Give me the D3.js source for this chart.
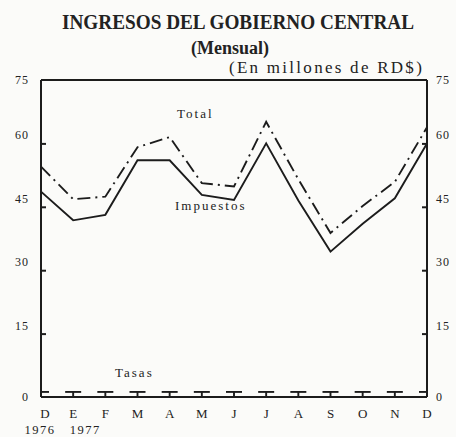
<!DOCTYPE html>
<html>
<head>
<meta charset="utf-8">
<script src="https://cdn.jsdelivr.net/npm/d3@7"></script>
<style>
  html, body { margin: 0; padding: 0; background: #fbfbf9; }
  svg { display: block; }
  text { font-family: "Liberation Serif", "DejaVu Serif", serif; fill: #222; }
</style>
</head>
<body>
<svg id="chart" width="456" height="437"></svg>
<script>
// Monthly government revenue, Dec 1976 – Dec 1977 (millions RD$)
const months = ["D", "E", "F", "M", "A", "M", "J", "J", "A", "S", "O", "N", "D"];
const yearLabels = [["1976", 0], ["1977", 1]];
const total     = [54.5, 46.8, 47.4, 59.1, 61.5, 50.6, 49.8, 65.1, 51.5, 38.8, 45.2, 50.9, 63.8];
const impuestos = [48.6, 41.8, 43.1, 56.0, 56.0, 47.8, 46.6, 60.0, 46.5, 34.4, 41.0, 47.0, 60.0];
const tasas     = [1.2, 1.2, 1.2, 1.2, 1.2, 1.2, 1.2, 1.2, 1.2, 1.2, 1.2, 1.2, 1.2];
const yTicks = [0, 15, 30, 45, 60, 75];

const svg = d3.select("#chart");
const plotL = 41, plotR = 427, plotT = 80, plotB = 397;
const ink = "#1c1c1c";

const x = d3.scaleLinear().domain([0, months.length - 1]).range([plotL, plotR]);
const y = d3.scaleLinear().domain([0, 75]).range([plotB, plotT]);

// Titles
svg.append("text").attr("x", 238).attr("y", 29).attr("text-anchor", "middle")
  .attr("font-size", 20).attr("font-weight", "bold")
  .attr("textLength", 352).attr("lengthAdjust", "spacingAndGlyphs")
  .text("INGRESOS DEL GOBIERNO CENTRAL");
svg.append("text").attr("x", 230).attr("y", 54).attr("text-anchor", "middle")
  .attr("font-size", 18).attr("font-weight", "bold")
  .text("(Mensual)");
svg.append("text").attr("x", 229).attr("y", 73)
  .attr("font-size", 17).attr("letter-spacing", "1.2")
  .attr("textLength", 194).attr("lengthAdjust", "spacing")
  .text("(En millones de RD$)");

// Frame: left axis, right axis, top border, baseline
const frame = svg.append("g").attr("stroke", ink).attr("stroke-width", 2).attr("fill", "none");
frame.append("line").attr("x1", plotL).attr("x2", plotL).attr("y1", y(75)).attr("y2", y(0));
frame.append("line").attr("x1", plotR).attr("x2", plotR).attr("y1", y(75)).attr("y2", y(0));
frame.append("line").attr("x1", plotL).attr("x2", plotR).attr("y1", y(75)).attr("y2", y(75));
frame.append("line").attr("x1", plotL).attr("x2", plotR).attr("y1", y(0)).attr("y2", y(0));

// Inward ticks on both vertical axes
const inner = yTicks.filter(v => v > 0 && v < 75);
const leftAxis = svg.append("g").attr("transform", `translate(${plotL},0)`)
  .call(d3.axisRight(y).tickValues(inner).tickSize(5).tickFormat(""));
const rightAxis = svg.append("g").attr("transform", `translate(${plotR},0)`)
  .call(d3.axisLeft(y).tickValues(inner).tickSize(5).tickFormat(""));
[leftAxis, rightAxis].forEach(g => {
  g.select(".domain").remove();
  g.selectAll(".tick line").attr("stroke", ink).attr("stroke-width", 2);
});

// Tick labels, sitting slightly above the inner ticks
const lift = v => (v > 0 && v < 75) ? -4 : 4;
svg.append("g").selectAll("text").data(yTicks).join("text")
  .attr("x", 29).attr("y", v => y(v) + lift(v))
  .attr("text-anchor", "end").attr("font-size", 12).attr("letter-spacing", "1")
  .attr("fill", "#333").text(v => v);
svg.append("g").selectAll("text").data(yTicks).join("text")
  .attr("x", 436).attr("y", v => y(v) + lift(v))
  .attr("font-size", 12).attr("letter-spacing", "1")
  .attr("fill", "#333").text(v => v);

// Month and year labels
svg.append("g").selectAll("text").data(months).join("text")
  .attr("x", (d, i) => x(i) + (i === 0 ? 4 : 0)).attr("y", 418)
  .attr("text-anchor", "middle").attr("font-size", 13)
  .text(d => d);
svg.append("g").selectAll("text").data(yearLabels).join("text")
  .attr("x", d => x(d[1]) + (d[1] === 0 ? -1 : 12)).attr("y", 434)
  .attr("text-anchor", "middle").attr("font-size", 12.5).attr("letter-spacing", "1.5")
  .text(d => d[0]);

// Series lines
const line = d3.line().x((d, i) => x(i)).y(d => y(d));
svg.append("path").datum(total).attr("d", line)
  .attr("fill", "none").attr("stroke", ink).attr("stroke-width", 1.9)
  .attr("stroke-dasharray", "13,5,2,5");
svg.append("path").datum(impuestos).attr("d", line)
  .attr("fill", "none").attr("stroke", ink).attr("stroke-width", 1.9);

// Tasas: short bars at each month with stems down to the baseline
const tg = svg.append("g").attr("stroke", ink).attr("stroke-width", 1.9);
tg.selectAll("line.bar").data(tasas).join("line").attr("class", "bar")
  .attr("x1", (d, i) => Math.max(plotL, x(i) - 8))
  .attr("x2", (d, i) => Math.min(plotR, x(i) + 8))
  .attr("y1", d => y(d)).attr("y2", d => y(d));
tg.selectAll("line.stem").data(tasas).join("line").attr("class", "stem")
  .attr("x1", (d, i) => x(i)).attr("x2", (d, i) => x(i))
  .attr("y1", d => y(d)).attr("y2", y(0));

// Series labels
const lab = svg.append("g").attr("font-size", 13).attr("letter-spacing", "2").attr("fill", "#222");
lab.append("text").attr("x", 177).attr("y", 118).text("Total");
lab.append("text").attr("x", 175).attr("y", 210).text("Impuestos");
lab.append("text").attr("x", 115).attr("y", 377).text("Tasas");
</script>
</body>
</html>
